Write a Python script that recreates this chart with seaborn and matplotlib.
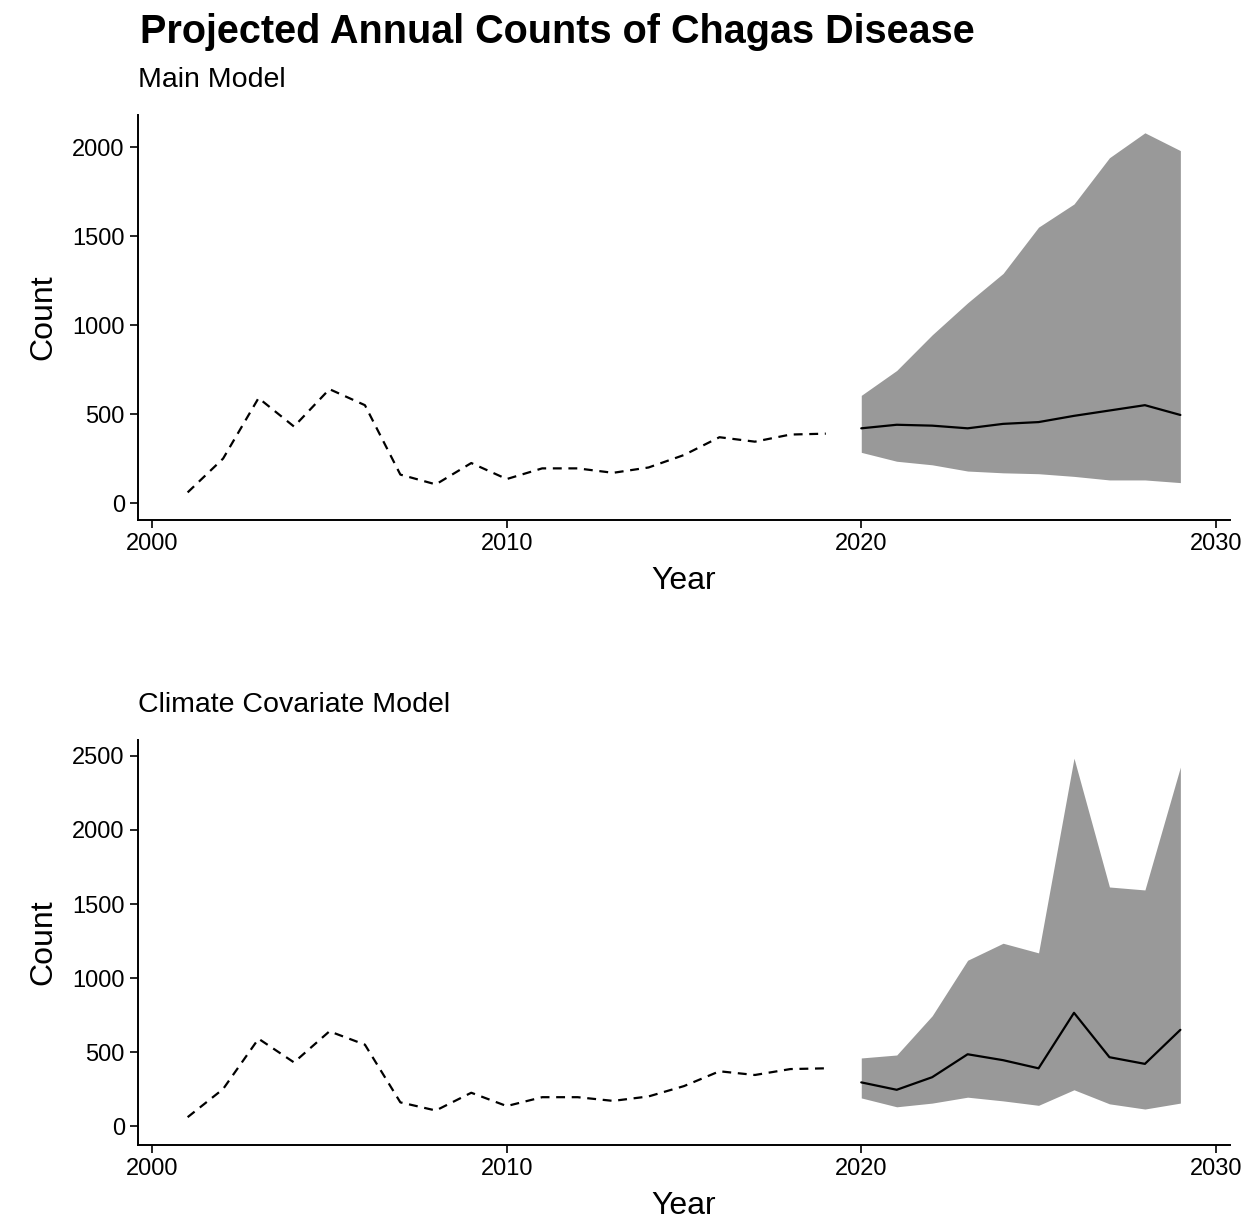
import matplotlib
matplotlib.use("Agg")
import matplotlib.pyplot as plt
import pandas as pd
import seaborn as sns

hist_years = list(range(2001, 2020))
hist_counts = [60, 250, 590, 430, 640, 550, 160, 105, 225, 135, 195, 195, 170, 200, 270, 370, 345, 385, 390]

fc_years = list(range(2020, 2030))
main_mean = [420, 440, 435, 420, 445, 455, 490, 520, 550, 495]
main_upper = [605, 745, 945, 1125, 1290, 1550, 1680, 1940, 2080, 1980]
main_lower = [285, 235, 215, 180, 170, 165, 150, 130, 130, 115]

clim_mean = [295, 245, 330, 485, 445, 390, 765, 465, 420, 650]
clim_upper = [460, 480, 745, 1120, 1235, 1170, 2485, 1615, 1595, 2425]
clim_lower = [190, 130, 155, 195, 170, 140, 245, 150, 115, 155]

sns.set_theme(style="ticks")
plt.rcParams['font.family'] = ['Liberation Sans', 'DejaVu Sans']

fig = plt.figure(figsize=(12.51, 12.26), dpi=100)
W, H = 1251, 1226

hist = pd.DataFrame({"Year": hist_years, "Count": hist_counts})


def panel(rect, mean, upper, lower, ylim, yticks, subtitle):
    l, t, r, b = rect
    ax = fig.add_axes([l / W, 1 - b / H, (r - l) / W, (b - t) / H])
    fc = pd.DataFrame({"Year": fc_years, "Count": mean, "lo": lower, "hi": upper})
    ax.fill_between(fc["Year"], fc["lo"], fc["hi"], color="#999999", lw=0)
    sns.lineplot(data=hist, x="Year", y="Count", ax=ax, color="black", lw=1.6,
                 linestyle=(0, (4, 3)))
    sns.lineplot(data=fc, x="Year", y="Count", ax=ax, color="black", lw=1.6)
    ax.set_xlim(1999.6, 2030.4)
    ax.set_ylim(*ylim)
    ax.set_xticks([2000, 2010, 2020, 2030])
    ax.set_yticks(yticks)
    ax.tick_params(labelsize=17, length=6, width=1.2, color="black", labelcolor="black")
    for s in ["top", "right"]:
        ax.spines[s].set_visible(False)
    for s in ["left", "bottom"]:
        ax.spines[s].set_color("black")
        ax.spines[s].set_linewidth(1.4)
    ax.set_xlabel("Year", fontsize=23, color="black", labelpad=8)
    ax.set_ylabel("Count", fontsize=23, color="black", labelpad=10)
    ax.set_title(subtitle, loc="left", fontsize=20.5, pad=20, color="black")
    return ax


panel((138, 115, 1230, 520), main_mean, main_upper, main_lower, (-95, 2180),
      [0, 500, 1000, 1500, 2000], "Main Model")
panel((138, 740, 1230, 1145), clim_mean, clim_upper, clim_lower, (-128, 2608),
      [0, 500, 1000, 1500, 2000, 2500], "Climate Covariate Model")

fig.text(140 / W, 1 - 32 / H, "Projected Annual Counts of Chagas Disease",
         fontsize=28.5, fontweight="bold", va="center", ha="left", color="black")

fig.savefig("out.png", dpi=100)
